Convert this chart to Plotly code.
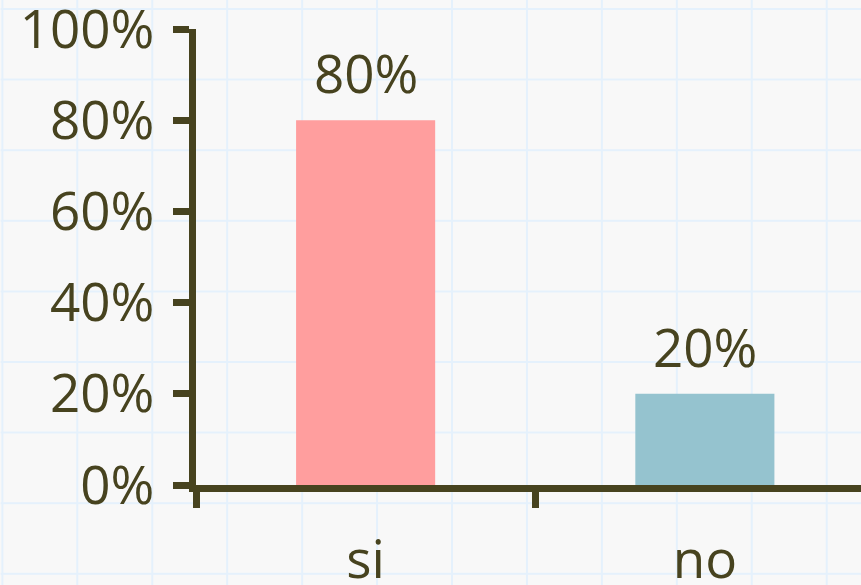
import plotly.graph_objects as go

categories = ['si', 'no']
shares = [0.80, 0.20]
bar_colors = ['#ff9e9e', '#95c3cf']
y_ticks = [0, 0.2, 0.4, 0.6, 0.8, 1.0]

W, H = 861, 585
ink = '#47431f'
paper = '#f8f8f8'
grid_color = '#e5f1fc'
fsize = 53

# plot box in pixels
left, right, top, bottom = 195.5, 861, 29, 485
cat_w = 339.5

fig = go.Figure()
fig.add_trace(go.Bar(x=categories, y=shares, marker_color=bar_colors,
                     marker_line_width=0, width=0.41, hoverinfo='skip'))

# bar labels above the bars
for c, v in zip(categories, shares):
    fig.add_annotation(x=c, y=v, text=f'{v:.0%}', showarrow=False,
                       yanchor='bottom', yshift=9,
                       font=dict(size=fsize, color=ink, family='Open Sans'))

# graph-paper background
shapes = []
pw, ph = right - left, bottom - top
gx = 1.7
while gx < W:
    px = (gx - left) / pw
    shapes.append(dict(type='line', xref='paper', yref='paper', x0=px, x1=px,
                       y0=(bottom - H) / ph, y1=bottom / ph, layer='below',
                       line=dict(color=grid_color, width=2)))
    gx += 75
gy = 9
while gy < H:
    py = (bottom - gy) / ph
    shapes.append(dict(type='line', xref='paper', yref='paper', x0=-left / pw, x1=(W - left) / pw,
                       y0=py, y1=py, layer='below',
                       line=dict(color=grid_color, width=2)))
    gy += 70.6

fig.update_layout(
    width=W, height=H,
    margin=dict(l=left, r=W - right, t=top, b=H - bottom, pad=0, autoexpand=False),
    paper_bgcolor=paper, plot_bgcolor='rgba(0,0,0,0)',
    font=dict(family='Open Sans', size=fsize, color=ink),
    showlegend=False,
    shapes=shapes,
    xaxis=dict(range=[-0.5, -0.5 + (right - left) / cat_w], tickson='boundaries',
               ticks='outside', ticklen=16, tickwidth=7, tickcolor=ink,
               showline=True, linewidth=7, linecolor=ink, showgrid=False,
               automargin=False, ticklabeloverflow='allow',
               tickfont=dict(size=fsize, color=ink), ticklabelstandoff=22),
    yaxis=dict(range=[0, 1], tickmode='array', tickvals=y_ticks,
               ticktext=[f'{t:.0%}' for t in y_ticks],
               ticks='outside', ticklen=16, tickwidth=7, tickcolor=ink,
               showline=True, linewidth=7, linecolor=ink, showgrid=False,
               automargin=False, ticklabeloverflow='allow',
               zeroline=False, tickfont=dict(size=fsize, color=ink), ticklabelstandoff=8),
)

fig.write_html('out.html', config={'displayModeBar': False},
               post_script="document.body.style.margin='0';")
